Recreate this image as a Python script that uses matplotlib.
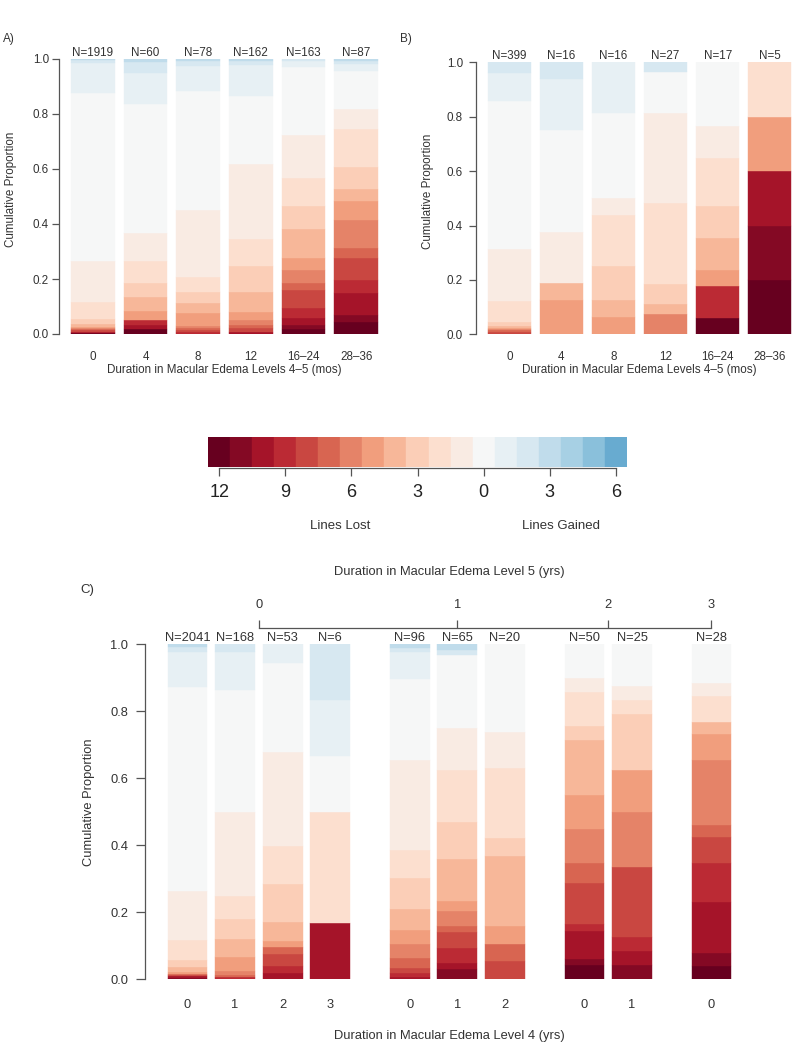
import numpy as np
import matplotlib
matplotlib.use('Agg')
import matplotlib.pyplot as plt
from matplotlib.transforms import blended_transform_factory

W, H = 798, 1050
plt.rcParams['font.family'] = ['Liberation Sans', 'DejaVu Sans']

# ---------------- data ----------------
# categories of change in visual acuity: -12 = 12 lines lost ... +6 = 6 lines gained
changes = list(range(-12, 7))
cbar_ticks = [-12, -9, -6, -3, 0, 3, 6]
cbar_labels = ['12', '9', '6', '3', '0', '3', '6']

# Panel A (weights per category, order = changes)
a_labels = ['0', '4', '8', '12', '16\u201324', '28\u201336']
a_n = [1919, 60, 78, 162, 163, 87]
a_dist = [
    [0.2, 0.2, 0.3, 0.2, 0.4, 0.4, 0.4, 0.5, 1.1, 1.7, 6.1, 14.9, 61.2, 10.9, 1.1, 0.4, 0, 0, 0],
    [1.7, 0, 1.6, 1.8, 0, 0, 0, 3.4, 4.8, 5.1, 8.3, 9.9, 46.8, 11.5, 3.8, 1.2, 0, 0, 0],
    [0, 0, 0, 0.7, 0.8, 0.7, 0.7, 4.9, 3.6, 4.0, 5.2, 24.5, 43.4, 9.0, 1.9, 0.6, 0, 0, 0],
    [0, 0, 0.8, 0, 1.3, 1.2, 1.8, 3.0, 7.3, 9.3, 9.8, 27.2, 24.8, 11.3, 1.6, 0.6, 0, 0, 0],
    [1.7, 1.6, 2.4, 3.6, 6.7, 2.4, 4.9, 4.2, 10.6, 8.6, 9.9, 15.8, 24.6, 2.4, 0.6, 0, 0, 0, 0],
    [4.5, 2.4, 7.9, 4.8, 7.9, 3.7, 10.3, 6.9, 4.3, 8.1, 13.7, 7.2, 14.1, 2.4, 1.2, 0.6, 0, 0, 0],
]

# Panel B (counts per category)
b_labels = ['0', '4', '8', '12', '16\u201324', '28\u201336']
b_n = [399, 16, 16, 27, 17, 5]
b_dist = [
    [0, 0, 0, 0, 1.0, 0.4, 0.4, 0.5, 0.8, 1.6, 7.6, 19.0, 54.7, 10.3, 3.8, 0, 0, 0, 0],
    [0, 0, 0, 0, 0, 0, 0, 2, 1, 0, 0, 3, 6, 3, 1, 0, 0, 0, 0],
    [0, 0, 0, 0, 0, 0, 0, 1, 1, 2, 3, 1, 5, 3, 0, 0, 0, 0, 0],
    [0, 0, 0, 0, 0, 0, 2, 0, 1, 2, 8, 9, 4, 0, 1, 0, 0, 0, 0],
    [1, 0, 0, 2, 0, 0, 0, 1, 2, 2, 3, 2, 4, 0, 0, 0, 0, 0, 0],
    [1, 1, 1, 0, 0, 0, 0, 1, 0, 0, 1, 0, 0, 0, 0, 0, 0, 0, 0],
]

# Panel C
c_level4 = ['0', '1', '2', '3', '0', '1', '2', '0', '1', '0']
c_level5 = [0, 0, 0, 0, 1, 1, 1, 2, 2, 3]
c_n = [2041, 168, 53, 6, 96, 65, 20, 50, 25, 28]
c_dist = [
    [0, 0.4, 0.5, 0, 0.3, 0.3, 0, 0.7, 1.5, 2.0, 6.1, 14.5, 60.8, 10.7, 1.5, 0.7, 0, 0, 0],
    [0, 0, 0, 0.5, 0, 0.7, 1.2, 4.1, 5.35, 5.95, 7.1, 24.9, 36.55, 11.25, 2.4, 0, 0, 0, 0],
    [0, 0, 1, 1, 2, 1, 0, 1, 3, 6, 6, 15, 14, 3, 0, 0, 0, 0, 0],
    [0, 0, 1, 0, 0, 0, 0, 0, 0, 0, 2, 0, 1, 1, 1, 0, 0, 0, 0],
    [0, 0, 0.7, 1.0, 1.5, 3.0, 4.2, 4.2, 6.2, 9.5, 8.2, 26.9, 24.2, 8.2, 1.0, 1.2, 0, 0, 0],
    [0, 3.0, 1.7, 4.7, 4.7, 1.6, 4.5, 3.2, 12.5, 11.0, 15.6, 12.5, 21.9, 0, 1.5, 1.6, 0, 0, 0],
    [0, 0, 0, 0, 1, 1, 0, 1, 4, 1, 4, 2, 5, 0, 0, 0, 0, 0, 0],
    [2, 1, 4, 1, 6, 3, 5, 5, 8, 2, 5, 2, 5, 0, 0, 0, 0, 0, 0],
    [0, 1, 1, 1, 5, 0, 4, 3, 0, 4, 1, 1, 3, 0, 0, 0, 0, 0, 0],
    [1, 1, 4, 3, 2, 1, 5, 2, 1, 0, 2, 1, 3, 0, 0, 0, 0, 0, 0],
]

# ---------------- styling ----------------
cmap = matplotlib.colormaps['RdBu']
colors = np.array([cmap(i / 24) for i in range(len(changes))])
TXT = '#333333'
LINE = '#555555'

fig = plt.figure(figsize=(W / 100, H / 100), dpi=100)
fig.patch.set_facecolor('white')


def add_ax(left, top, right, bottom):
    return fig.add_axes([left / W, 1 - bottom / H, (right - left) / W, (bottom - top) / H])


def fx(x):
    return x / W


def fy(y):
    return 1 - y / H


def bar_lefts(spaces):
    lefts, pos = [], 0.0
    for s in spaces:
        pos += s
        lefts.append(pos)
        pos += 1.0
    return np.array(lefts)


def stacked(ax, lefts, dists):
    for x, d in zip(lefts, dists):
        d = np.asarray(d, float)
        d = d / d.sum()
        bottoms = np.concatenate([[0], np.cumsum(d)[:-1]])
        m = d > 0
        ax.bar(np.full(m.sum(), x), d[m], 1.0, bottom=bottoms[m], color=colors[m],
               align='edge', linewidth=0.3, edgecolor=colors[m])


def style(ax, fs, ticklen, ypad, xpad):
    ax.set_ylim(0, 1)
    for s in ['top', 'right', 'bottom']:
        ax.spines[s].set_visible(False)
    ax.spines['left'].set_color(LINE)
    ax.spines['left'].set_linewidth(0.9)
    yt = np.linspace(0, 1, 6)
    ax.set_yticks(yt, [f'{v:.1f}' for v in yt])
    ax.tick_params(axis='y', length=ticklen, width=0.9, color=LINE, labelcolor=TXT,
                   labelsize=fs, pad=ypad)
    ax.tick_params(axis='x', length=0, labelcolor=TXT, labelsize=fs, pad=xpad)
    ax.patch.set_alpha(0)


def nlabels(ax, centers, ns, fs):
    for c, n in zip(centers, ns):
        ax.annotate(f'N={n}', (c, 1), xytext=(0, 2.2), textcoords='offset points',
                    ha='center', va='baseline', fontsize=fs, color=TXT, annotation_clip=False)


# ---------------- panel A ----------------
FS = 8.4
axA = add_ax(58.7, 59, 390.3, 334)
leftsA = bar_lefts([0.2] * 6)
stacked(axA, leftsA, a_dist)
axA.set_xlim(-0.08, 7.48)
style(axA, FS, 5, 2.0, 12.2)
axA.set_xticks(leftsA + 0.5, a_labels)
nlabels(axA, leftsA + 0.5, a_n, FS)
fig.text(fx(224.5), fy(373.5), 'Duration in Macular Edema Levels 4\u20135 (mos)', ha='center',
         va='baseline', fontsize=FS, color=TXT)
fig.text(fx(11), fy(189), 'Cumulative Proportion', rotation=90, ha='center', va='center',
         fontsize=FS, color=TXT)
fig.text(fx(3), fy(42), 'A)', ha='left', va='baseline', fontsize=8.5, color=TXT)

# ---------------- panel B ----------------
axB = add_ax(475.5, 62.3, 803.6, 334.3)
leftsB = bar_lefts([0.2] * 6)
stacked(axB, leftsB, b_dist)
axB.set_xlim(-0.08, 7.48)
style(axB, FS, 5, 4.0, 12.0)
axB.set_xticks(leftsB + 0.5, b_labels)
nlabels(axB, leftsB + 0.5, b_n, FS)
fig.text(fx(639.5), fy(373.5), 'Duration in Macular Edema Levels 4\u20135 (mos)', ha='center',
         va='baseline', fontsize=FS, color=TXT)
fig.text(fx(428.3), fy(191.7), 'Cumulative Proportion', rotation=90, ha='center', va='center',
         fontsize=FS, color=TXT)
fig.text(fx(400), fy(42), 'B)', ha='left', va='baseline', fontsize=8.5, color=TXT)

# ---------------- colour key ----------------
axK = add_ax(208.3, 437.3, 626.7, 467.3)
idx = np.arange(len(changes))
axK.bar(idx, np.ones(len(changes)), 1.0, color=colors, align='edge', linewidth=0.3,
        edgecolor=colors)
axK.set_xlim(0, len(changes))
axK.set_ylim(0, 1)
for s in ['top', 'right', 'left']:
    axK.spines[s].set_visible(False)
tick_pos = [changes.index(t) + 0.5 for t in cbar_ticks]
axK.spines['bottom'].set_bounds(tick_pos[0], tick_pos[-1])
axK.spines['bottom'].set_position(('outward', 0.8))
axK.spines['bottom'].set_color(LINE)
axK.spines['bottom'].set_linewidth(0.9)
axK.set_yticks([])
axK.set_xticks(tick_pos, cbar_labels)
axK.tick_params(axis='x', length=5.8, width=0.9, color=LINE, labelcolor='#222222',
                labelsize=13, pad=5.5)
tr = blended_transform_factory(axK.transData, fig.transFigure)
lost_c = (0 + changes.index(0)) / 2
gain_c = (changes.index(1) + len(changes)) / 2
axK.text(lost_c, fy(529.3), 'Lines Lost', transform=tr, ha='center', va='baseline',
         fontsize=9.5, color=TXT)
axK.text(gain_c, fy(529.3), 'Lines Gained', transform=tr, ha='center', va='baseline',
         fontsize=9.5, color=TXT)

# ---------------- panel C ----------------
FC = 9.3
axC = add_ax(145, 644.3, 753.8, 979)
spacesC = [0.2 if i == 0 or c_level5[i] == c_level5[i - 1] else 1.0 for i in range(len(c_level5))]
leftsC = bar_lefts(spacesC)
centersC = leftsC + 0.5
stacked(axC, leftsC, c_dist)
axC.set_xlim(-0.368, 14.968)
style(axC, FC, 6.5, 5.5, 14.1)
axC.set_xticks(centersC, c_level4)
nlabels(axC, centersC, c_n, FC)
groups = sorted(set(c_level5))
gcent = [np.mean([c for c, g in zip(centersC, c_level5) if g == k]) for k in groups]
sec = axC.secondary_xaxis(1.0496)
sec.set_xticks(gcent, [str(g) for g in groups])
sec.spines['top'].set_bounds(gcent[0], gcent[-1])
sec.spines['top'].set_color(LINE)
sec.spines['top'].set_linewidth(0.9)
sec.tick_params(axis='x', direction='out', length=5.5, width=0.9, color=LINE,
                labelcolor=TXT, labelsize=FC, pad=6.2)
fig.text(fx(449.4), fy(575), 'Duration in Macular Edema Level 5 (yrs)', ha='center',
         va='baseline', fontsize=FC, color=TXT)
fig.text(fx(449.4), fy(1039), 'Duration in Macular Edema Level 4 (yrs)', ha='center',
         va='baseline', fontsize=FC, color=TXT)
fig.text(fx(89), fy(802.5), 'Cumulative Proportion', rotation=90, ha='center', va='center',
         fontsize=FC, color=TXT)
fig.text(fx(80.7), fy(593), 'C)', ha='left', va='baseline', fontsize=9.5, color=TXT)

fig.savefig('out.png', dpi=100, facecolor='white')
